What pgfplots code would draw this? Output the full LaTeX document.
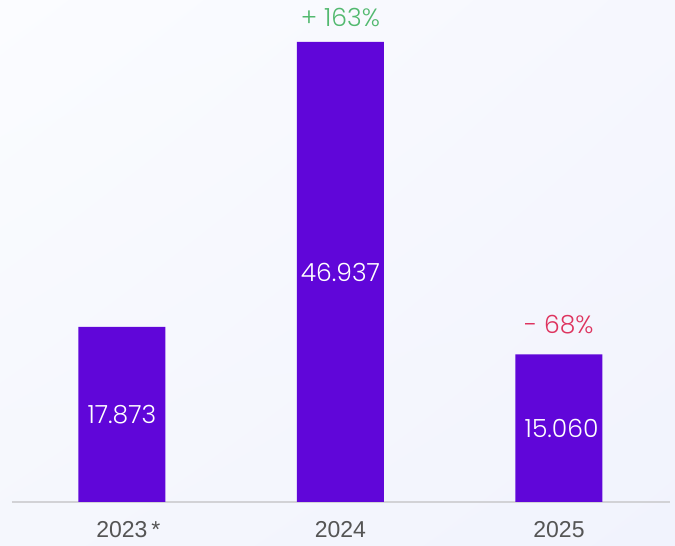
\documentclass[border=0pt]{standalone}
\usepackage{fontspec}
\setmainfont{Liberation Sans}
\newfontfamily\pop{Poppins Light}
\usepackage{pgfplots}
\pgfplotsset{compat=1.18}
\usetikzlibrary{shadings}
\definecolor{barc}{RGB}{96,6,217}
\definecolor{upc}{RGB}{82,185,111}
\definecolor{downc}{RGB}{222,52,95}
\definecolor{tickc}{RGB}{85,85,85}
\definecolor{linec}{RGB}{210,210,214}
\definecolor{bgul}{RGB}{251,252,255}
\definecolor{bgur}{RGB}{246,247,254}
\definecolor{bgll}{RGB}{245,247,253}
\definecolor{bglr}{RGB}{241,243,253}
\begin{document}
\begin{tikzpicture}[x=1pt,y=1pt]
\shade[upper left=bgul, upper right=bgur, lower left=bgll, lower right=bglr]
  (0,0) rectangle (675,546);
\begin{axis}[
  at={(12pt,44pt)}, anchor=south west,
  scale only axis, width=658pt, height=502pt,
  xmin=-0.503, xmax=2.508, ymin=0, ymax=51.22,
  axis x line*=bottom, axis y line=none,
  x axis line style={draw=linec, line width=1.5pt, -},
  xtick={0,1,2}, xticklabels={2023\rlap{\,*}, 2024, 2025},
  major tick length=0pt,
  xticklabel style={anchor=center, yshift=-28pt, text=tickc, font=\fontsize{23}{26}\selectfont},
  ytick=\empty,
  clip=false,
]
\addplot[ybar, fill=barc, draw=none, bar width=87pt] coordinates {(0,17.873) (1,46.937) (2,15.060)};
\addplot[draw=none, mark=none, nodes near coords, point meta=explicit symbolic,
  nodes near coords style={anchor=center, text=white, font=\pop\fontsize{25}{28}\selectfont}]
  coordinates {(0,8.9365)[17.873] (1,23.4685)[46.937] (2.012,7.53)[15.060]};
\addplot[draw=none, mark=none, nodes near coords, point meta=explicit symbolic,
  nodes near coords style={anchor=center, yshift=24pt, text=upc, font=\pop\fontsize{25}{28}\selectfont}]
  coordinates {(1,46.937)[+ 163\%]};
\addplot[draw=none, mark=none, nodes near coords, point meta=explicit symbolic,
  nodes near coords style={anchor=center, yshift=30pt, text=downc, font=\pop\fontsize{25}{28}\selectfont}]
  coordinates {(2,15.060)[- 68\%]};
\end{axis}
\end{tikzpicture}
\end{document}
